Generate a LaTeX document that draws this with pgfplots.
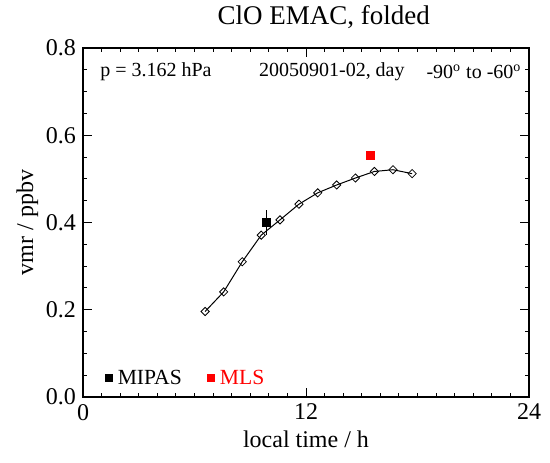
\documentclass[border=0pt]{standalone}
\usepackage{fontspec}
\setmainfont{Liberation Serif}
\usepackage{pgfplots}
\pgfplotsset{compat=1.18}

\begin{document}
\begin{tikzpicture}
\begin{axis}[
  name=ax,
  width=223pt, height=174.5pt, scale only axis,
  xmin=0, xmax=24, ymin=0, ymax=0.8,
  xtick={0,12,24}, minor x tick num=11,
  ytick={0,0.2,0.4,0.6,0.8}, minor y tick num=3,
  yticklabel style={/pgf/number format/fixed, /pgf/number format/fixed zerofill, /pgf/number format/precision=1},
  /pgf/number format/assume math mode=true,
  tick align=inside, major tick length=4.5pt, minor tick length=2.2pt,
  tick style={black, line width=0.5pt},
  axis line style={line width=0.6pt},
  tick label style={font=\fontsize{12}{14}\selectfont},
  label style={font=\fontsize{12}{14}\selectfont},
  xlabel={local time / h}, ylabel={vmr / ppbv},
  xlabel style={yshift=1.5pt}, ylabel style={yshift=-3pt},
  clip=false,
]
% EMAC folded
\addplot[black, line width=0.5pt, mark=square, mark size=1.45pt, mark options={rotate=45, fill=white, line width=0.4pt}]
  coordinates {(6.57,0.196)(7.57,0.241)(8.57,0.310)(9.59,0.371)(10.6,0.406)(11.62,0.442)
               (12.63,0.468)(13.65,0.486)(14.66,0.502)(15.68,0.517)(16.68,0.521)(17.71,0.512)};
% MIPAS with error bar
\addplot[black, line width=0.5pt] coordinates {(9.85,0.371)(9.85,0.429)};
\addplot[only marks, mark=square*, mark size=2pt, black] coordinates {(9.85,0.400)};
% MLS
\addplot[only marks, mark=square*, mark size=2pt, red] coordinates {(15.45,0.553)};
% legend markers
\addplot[only marks, mark=square*, mark size=1.7pt, black] coordinates {(1.4,0.044)};
\addplot[only marks, mark=square*, mark size=1.7pt, red] coordinates {(6.9,0.044)};
\node[anchor=west, inner sep=0pt, font=\fontsize{10.8}{12}\selectfont] at (axis cs:1.85,0.044) {MIPAS};
\node[anchor=west, inner sep=0pt, red, font=\fontsize{10.8}{12}\selectfont] at (axis cs:7.35,0.044) {MLS};
% annotations
\node[anchor=west, inner sep=0pt, font=\fontsize{10}{12}\selectfont] at (rel axis cs:0.038,0.931) {p = 3.162 hPa};
\node[inner sep=0pt, font=\fontsize{10}{12}\selectfont] at (rel axis cs:0.558,0.931) {20050901-02, day};
\node[anchor=east, inner sep=0pt, font=\fontsize{10}{12}\selectfont] at (rel axis cs:0.984,0.931) {-90\textsuperscript{o} to -60\textsuperscript{o}};
% title
\node[font=\fontsize{13.5}{15}\selectfont] at (rel axis cs:0.54,1.09) {ClO EMAC, folded};
\end{axis}
\pgfresetboundingbox
\useasboundingbox ([xshift=-41.5pt,yshift=-32.5pt]ax.south west) rectangle ([xshift=10.5pt,yshift=24pt]ax.north east);
\end{tikzpicture}
\end{document}
